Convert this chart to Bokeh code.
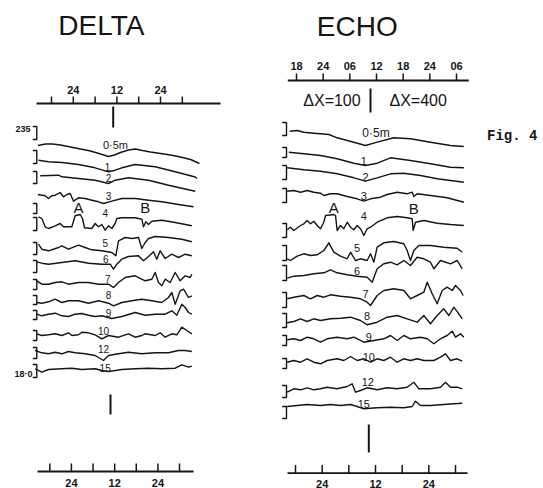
from bokeh.plotting import figure
from bokeh.models import Range1d
from bokeh.embed import file_html
from bokeh.resources import INLINE
from bokeh.core.properties import value

FONT = "Liberation Sans"
INK = "#151515"

# ---------------- DATA: time in hours, value in trace units (downward) ----------------
depth_names = ["0·5m", "1", "2", "3", "4", "5", "6", "7", "8", "9", "10", "12", "15"]

# ---- DELTA ----
D05_t = [14.28,16.35,18.28,20.48,23.23,25.98,28.73,31.49,33.69,35.34,36.99,39.19,41.12,43.05,45.24,47.99,50.75,53.50,56.26,58.73]
D05_y = [145,143.5,143.5,144.5,146.5,148.5,150.5,153.5,156,154.5,152,149.5,148.5,150,151.5,153,154.5,156.5,159,163]
D1_t = [14.42,17.17,20.84,25.43,30.02,33.69,35.52,37.36,41.03,46.53,52.04,57.54,58.1]
D1_y = [159.7,161.3,162.0,164.0,167.3,171.3,169.7,167.3,164.0,166.3,171.3,176.5,178.0]
D2_t = [14.88,19.93,20.84,25.43,30.02,33.69,35.52,39.19,44.70,50.20,57.54]
D2_y = [175.3,174.7,176.3,178.0,179.7,183.0,179.7,177.3,179.7,184.7,190.7]
D3_t = [14.24,16.26,17.17,18.09,19.01,20.39,21.30,22.22,23.14,24.06,25.43,27.27,29.10,30.94,32.31,34.61,37.36,41.03,44.70,48.37,52.95,57.08]
D3_y = [194.0,195.3,198.0,195.3,194.7,192.0,196.3,194.0,193.0,200.7,197.3,198.0,199.7,201.3,203.0,200.7,198.0,198.0,199.7,201.3,204.0,206.3]
D4_t = [14.42,15.34,16.26,17.17,19.01,20.39,21.30,23.60,24.51,25.89,26.53,27.08,29.10,30.02,30.94,31.85,32.77,33.69,34.61,35.52,35.98,37.36,41.03,42.86,43.32,43.96,44.70,45.61,48.37,52.04,56.62]
D4_y = [216.3,218.0,226.3,228.0,225.3,223.0,226.3,226.3,215.3,214.0,218.0,227.3,228.0,223.0,226.3,224.0,229.7,225.3,228.0,223.0,218.0,217.3,217.3,218.7,226.3,221.3,224.0,220.7,219.7,222.0,225.3]
D5_t = [14.42,15.34,17.17,19.93,20.84,22.68,25.43,27.27,29.10,31.85,34.61,35.71,36.44,38.27,40.11,41.94,42.86,43.78,44.70,46.53,50.20,53.87,56.62]
D5_y = [243.7,248.7,250.3,247.0,245.3,248.7,244.7,247.0,249.3,250.3,252.0,255.3,240.3,237.0,238.0,237.0,248.0,242.0,238.0,236.0,237.0,238.7,241.3]
D6_t = [13.96,15.34,17.17,20.84,24.51,28.18,31.85,34.15,35.06,35.98,37.36,39.19,41.94,43.32,44.70,46.07,46.99,47.91,49.28,51.12,52.95,54.79,56.62]
D6_y = [261.3,262.7,263.7,262.0,260.3,262.7,263.7,263.7,268.7,263.7,258.7,256.0,255.3,260.3,256.0,251.3,258.7,250.3,258.0,253.7,257.0,253.7,255.3]
D7_t = [13.96,15.34,17.17,19.01,20.84,22.68,25.43,28.18,30.94,33.69,35.06,36.44,38.27,41.03,43.78,45.61,46.53,47.45,48.37,49.28,50.66,52.04,53.41,54.79,56.17,56.62]
D7_y = [280.3,283.7,283.7,282.0,281.3,283.7,282.0,282.0,283.7,283.7,287.0,282.0,277.0,275.3,280.3,278.7,272.0,282.0,285.3,278.7,282.0,272.0,280.3,275.3,277.0,273.7]
D8_t = [13.96,15.34,17.17,19.01,20.84,22.68,25.43,28.18,30.94,33.69,35.06,37.36,40.11,42.86,45.61,48.37,50.20,51.12,52.04,53.41,54.33,55.71,56.62]
D8_y = [302.0,302.7,301.3,298.7,302.0,300.3,300.3,302.7,300.3,302.7,305.3,302.0,300.3,298.7,300.3,302.0,297.0,292.0,303.7,290.3,288.7,297.0,295.3]
D9_t = [13.96,15.34,17.17,19.01,20.84,22.68,24.51,26.35,28.18,30.02,31.85,34.61,37.36,41.03,43.78,46.53,49.28,51.12,52.49,53.87,54.79,55.71,56.62]
D9_y = [313.7,315.3,313.7,312.7,315.3,316.0,313.7,313.0,314.7,316.0,315.3,318.0,316.0,312.0,314.7,313.7,313.7,310.3,314.7,303.7,307.0,312.0,313.7]
D10_t = [13.96,15.34,17.17,19.01,20.84,22.68,23.60,25.43,26.35,28.18,30.02,31.85,33.69,36.44,39.19,41.03,42.86,43.78,46.53,47.91,49.28,51.12,52.49,53.87,55.25,56.62]
D10_y = [333.3,335.0,334.3,333.3,335.0,332.3,335.0,334.3,331.7,332.3,334.3,338.3,335.0,336.7,333.3,336.7,335.0,333.3,335.0,332.3,336.7,333.3,334.3,326.7,330.0,333.3]
D12_t = [13.50,15.34,17.17,19.01,20.84,22.68,24.51,27.27,30.02,32.31,33.69,36.44,39.19,42.86,46.53,50.20,52.95,54.79,56.62]
D12_y = [350.0,352.3,353.3,351.7,353.3,351.0,352.3,353.3,355.0,360.0,355.0,353.3,351.7,353.3,352.3,352.3,350.0,350.0,351.0]
D15_t = [13.50,15.34,17.17,20.84,23.60,26.35,30.02,31.85,33.69,37.36,41.03,44.70,48.37,52.04,53.87,55.71,56.62]
D15_y = [368.3,371.7,369.0,368.3,367.7,369.0,368.3,370.0,371.0,369.0,368.3,367.7,368.3,367.7,364.3,366.7,365.7]

delta_lab_t = [35.61,33.41,33.69,33.69,32.77,32.77,32.95,33.50,33.69,33.69,32.31,32.31,32.77]
delta_lab_y = [144,166.3,177.3,195.3,212,242,258,278,294.7,312,330,348.3,367.7]
delta_ev_t = [25.43, 43.78]
delta_ev_y = [207.3, 207.3]
delta_br_top = [126,150,171,203,217,242,260,279,295,310,330,347,364]
delta_br_bot = [139,163,183,213,230,254,272,289,304,319,340,358,377]
delta_scale_labels = ["235", "18·0"]

# ---- ECHO ----
E05_t = [16.50,18.15,19.65,21.90,23.40,25.28,27.15,30.90,33.53,36.15,39.90,43.65,48.15,52.65,55.65]
E05_y = [130.7,130.0,131.7,132.7,133.3,134.0,137.3,141.7,145.0,141.7,137.3,138.3,141.7,145.0,146.0]
E1_t = [16.28,19.65,23.40,27.15,30.90,33.53,36.15,39.15,43.65,48.15,52.65,55.65]
E1_y = [151.7,153.3,155.0,158.3,162.7,165.0,162.7,157.3,160.0,163.3,166.7,167.3]
E2_t = [15.90,19.65,23.40,27.15,30.90,33.53,36.15,39.15,42.15,45.90,49.65,55.65]
E2_y = [167.3,169.3,170.7,173.3,177.3,180.7,177.3,173.3,172.7,175.0,178.3,181.7]
E3_t = [15.90,17.40,18.90,20.40,21.90,23.40,24.15,25.65,27.15,29.40,31.65,33.15,34.65,36.90,38.40,40.65,42.90,44.03,44.40,45.15,48.15,51.90,55.65]
E3_y = [190.7,190.0,191.7,190.0,191.7,192.7,195.0,193.3,193.3,196.0,198.3,200.7,198.3,196.7,194.0,191.7,193.3,191.7,196.0,193.3,195.0,197.3,201.7]
E4_t = [15.90,16.65,17.40,18.90,19.65,20.40,21.15,21.90,22.65,23.40,24.15,24.53,26.40,26.78,27.15,27.90,28.65,29.40,30.15,30.90,31.65,32.40,33.15,33.90,34.65,36.15,38.40,40.65,42.90,44.03,44.25,44.78,46.65,49.65,52.65,55.65]
E4_y = [229.3,226.7,230.0,225.0,223.3,220.0,223.3,220.7,225.0,228.3,221.7,215.0,214.0,215.0,230.0,225.0,228.3,221.7,226.7,229.3,225.0,228.3,235.0,228.3,226.7,221.7,217.3,216.0,217.3,218.3,230.0,221.7,220.0,222.7,224.0,225.0]
E5_t = [15.90,16.65,18.15,19.65,21.15,22.65,24.15,25.28,26.40,27.90,29.40,30.15,31.28,32.40,33.90,34.65,35.40,36.15,37.65,39.90,42.15,42.90,43.65,44.40,45.53,48.15,51.15,54.15,55.28]
E5_y = [258.3,260.0,255.7,253.3,255.0,254.3,250.0,242.3,251.7,255.7,258.3,251.7,260.0,258.3,260.0,253.3,261.7,246.7,242.3,241.0,243.3,250.0,260.0,250.0,245.0,245.0,246.7,247.7,251.7]
E6_t = [15.90,17.40,19.65,21.90,24.15,25.65,27.15,29.40,31.65,33.90,35.03,36.15,37.65,39.15,40.65,42.15,43.65,45.15,46.65,48.15,48.90,50.40,52.65,54.15,55.28]
E6_y = [277.7,275.7,275.0,273.3,272.3,269.3,272.3,274.3,275.7,276.7,281.7,268.3,263.3,261.7,264.3,260.0,265.0,256.7,258.3,261.7,268.3,260.0,263.3,260.0,268.3]
E7_t = [15.90,17.40,19.65,21.15,22.65,24.15,25.65,27.90,30.15,32.40,33.90,34.65,36.15,37.65,39.90,42.15,43.65,45.15,46.65,47.40,48.53,49.65,50.78,51.90,53.03,53.78,54.90,55.50]
E7_y = [298.3,296.7,295.0,298.3,295.0,296.7,294.3,295.7,296.7,298.3,301.7,305.0,295.0,290.0,288.3,290.0,298.3,295.0,291.7,281.7,293.3,303.3,290.0,286.7,290.0,285.0,290.0,295.0]
E8_t = [15.90,17.40,18.90,20.40,21.90,23.40,25.65,27.90,30.15,32.40,33.90,36.15,38.40,40.65,42.90,45.15,46.65,48.15,49.65,51.15,52.28,53.40,54.53,55.28]
E8_y = [322.3,321.0,318.3,321.0,318.3,320.0,318.3,317.7,316.7,320.0,324.3,321.7,316.7,315.0,318.3,321.7,315.0,323.3,315.0,308.3,315.0,306.7,313.3,318.3]
E9_t = [15.90,17.40,18.90,20.40,21.90,23.40,24.90,27.15,29.40,30.90,33.15,35.40,37.65,39.15,40.65,42.15,43.65,45.90,47.40,48.90,50.40,51.90,53.03,53.78,54.90,55.65]
E9_y = [339.3,338.3,340.0,336.7,338.3,341.7,338.3,336.7,338.3,336.7,341.7,340.0,338.3,335.0,340.0,335.0,338.3,336.7,338.3,343.3,338.3,335.0,330.7,336.7,333.3,336.7]
E10_t = [15.90,17.40,18.90,20.40,21.90,23.40,24.90,27.15,28.65,30.15,31.65,33.15,34.65,36.15,37.65,39.15,40.65,42.15,43.65,45.15,46.65,48.90,50.40,51.53,52.65,54.15,55.28]
E10_y = [361.7,360.0,361.7,358.3,361.7,363.3,360.0,358.3,360.0,356.0,360.0,358.3,361.7,358.3,360.0,356.7,361.7,358.3,360.0,358.3,360.0,360.0,356.7,353.3,360.0,358.3,360.7]
E12_t = [15.90,17.40,18.90,20.40,21.90,23.40,24.90,27.15,29.40,30.53,31.28,32.40,33.90,36.15,38.40,40.65,42.90,44.40,45.53,48.15,50.40,51.53,52.65,54.15,55.28]
E12_y = [391.7,388.3,389.3,387.3,389.3,388.3,386.7,388.3,386.0,383.3,391.7,390.0,387.3,389.3,387.3,388.3,386.7,381.7,388.3,388.3,386.7,381.7,386.7,386.7,388.3]
E15_t = [15.90,18.15,20.40,23.40,25.65,27.90,30.15,31.65,33.15,36.15,39.15,42.15,44.03,44.78,45.90,48.15,51.15,53.40,55.28]
E15_y = [406.0,405.0,404.0,405.0,404.0,405.0,404.0,406.0,408.3,407.3,406.7,407.3,406.0,400.7,405.0,405.0,404.0,403.3,402.7]

echo_lab_t = [35.89,33.15,33.53,33.15,33.15,31.65,31.65,33.53,33.90,34.27,34.27,34.04,33.15]
echo_lab_y = [132.5,160,176,195,215,247.7,270,293.3,315,336.7,356,381.7,403.3]
echo_ev_t = [26.40, 44.40]
echo_ev_y = [206.7, 208.3]
echo_br_top = [122,147,165,188,223,245,265,292,313,335,358,385,406]
echo_br_bot = [135,157,179,202,237,260,280,307,327,345,368,397,418]

# tick hours and labels
tick_hours = [18, 24, 30, 36, 42, 48, 54]
delta_top_labels = ["", "24", "", "12", "", "24", ""]
echo_top_labels = ["18", "24", "06", "12", "18", "24", "06"]
bottom_labels = ["", "24", "", "12", "", "24", ""]
event_names = ["A", "B"]
dx_labels = ["ΔX=100", "ΔX=400"]
dx_t = [25.98, 45.38]
panel_titles = ["DELTA", "ECHO"]

delta_traces = [(D05_t, D05_y), (D1_t, D1_y), (D2_t, D2_y), (D3_t, D3_y), (D4_t, D4_y), (D5_t, D5_y),
                (D6_t, D6_y), (D7_t, D7_y), (D8_t, D8_y), (D9_t, D9_y), (D10_t, D10_y), (D12_t, D12_y), (D15_t, D15_y)]
echo_traces = [(E05_t, E05_y), (E1_t, E1_y), (E2_t, E2_y), (E3_t, E3_y), (E4_t, E4_y), (E5_t, E5_y),
               (E6_t, E6_y), (E7_t, E7_y), (E8_t, E8_y), (E9_t, E9_y), (E10_t, E10_y), (E12_t, E12_y), (E15_t, E15_y)]

# ---------------- FIGURE ----------------
W, H = 543, 488
p = figure(width=W, height=H, x_range=Range1d(3.963, 153.41), y_range=Range1d(488, 0),
           output_backend="svg", toolbar_location=None,
           x_axis_location=None, y_axis_location=None,
           min_border_left=0, min_border_right=0, min_border_top=0, min_border_bottom=0)
p.extra_x_ranges = {
    "echo": Range1d(-48.6, 73.575),
    "dbot": Range1d(4.318, 155.01),
    "ebot": Range1d(-48.375, 73.8),
}
p.xgrid.grid_line_color = None
p.ygrid.grid_line_color = None
p.outline_line_color = None
p.background_fill_color = "white"
p.border_fill_color = "white"


def clean(traces):
    xs, ys = [], []
    for t, y in traces:
        n = min(len(t), len(y))
        xs.append(list(t[:n]))
        ys.append(list(y[:n]))
    return xs, ys


def labels(xs, ys, texts, size, rng="default", font=FONT, style="normal", align="center"):
    p.text(x=xs, y=ys, text=texts, text_font=value(font), text_font_size=size,
           text_font_style=style, text_align=align, text_baseline="middle",
           text_color=INK, x_range_name=rng)


def time_axis(rng, y_line, y_tick_end, y_label, bounds, texts):
    p.segment(x0=[bounds[0]], y0=[y_line], x1=[bounds[1]], y1=[y_line],
              line_color=INK, line_width=1.8, x_range_name=rng)
    p.segment(x0=tick_hours, y0=[y_line] * len(tick_hours), x1=tick_hours,
              y1=[y_tick_end] * len(tick_hours), line_color=INK, line_width=1.5, x_range_name=rng)
    lx = [h for h, s in zip(tick_hours, texts) if s]
    ls = [s for s in texts if s]
    labels(lx, [y_label] * len(lx), ls, "11px", rng=rng, style="bold")


def brackets(xv, xl, tops, bots, rng="default"):
    xs = [[xl, xv, xv, xl] for _ in tops]
    ys = [[a, a, b, b] for a, b in zip(tops, bots)]
    p.multi_line(xs=xs, ys=ys, line_color=INK, line_width=1.4, x_range_name=rng)


# titles
labels([31.71], [24.7], panel_titles[:1], "28px")
labels([31.66], [25.8], panel_titles[1:], "28px", rng="echo")

# ---- DELTA ----
time_axis("default", 103, 96, 89.5, (13.87, 64.51), delta_top_labels)
time_axis("dbot", 471, 463, 482, (14.59, 57.88), bottom_labels)
xs, ys = clean(delta_traces)
p.multi_line(xs=xs, ys=ys, line_color=INK, line_width=1.4, line_join="round")
brackets(13.95, 12.85, delta_br_top, delta_br_bot)
labels(delta_lab_t[:1], delta_lab_y[:1], depth_names[:1], "11px")
labels(delta_lab_t[1:], delta_lab_y[1:], depth_names[1:], "10px")
labels(delta_ev_t, delta_ev_y, event_names, "15px")
labels([10.16, 10.29], [128, 373], delta_scale_labels, "9px", style="bold")
p.segment(x0=[34.98, 34.24], y0=[106, 394], x1=[34.98, 34.24], y1=[127, 414],
          line_color=INK, line_width=2)

# ---- ECHO ----
time_axis("echo", 80, 73, 65, (16.04, 56.77), echo_top_labels)
time_axis("ebot", 472.7, 464.5, 483, (16.2, 56.7), bottom_labels)
xs, ys = clean(echo_traces)
p.multi_line(xs=xs, ys=ys, line_color=INK, line_width=1.4, line_join="round", x_range_name="echo")
brackets(15.75, 14.78, echo_br_top, echo_br_bot, rng="echo")
labels(echo_lab_t[:1], echo_lab_y[:1], depth_names[:1], "12px", rng="echo")
labels(echo_lab_t[1:], echo_lab_y[1:], depth_names[1:], "11px", rng="echo")
labels(echo_ev_t, echo_ev_y, event_names, "15px", rng="echo")
labels(dx_t, [100, 100], dx_labels, "16px", rng="echo")
labels([66.53], [135.5], ["Fig. 4"], "14px", rng="echo", font="Liberation Mono", style="bold")
p.segment(x0=[34.65, 34.27], y0=[88, 424], x1=[34.65, 34.27], y1=[112, 452],
          line_color=INK, line_width=2, x_range_name="echo")

open("out.html", "w").write(file_html(p, INLINE))
